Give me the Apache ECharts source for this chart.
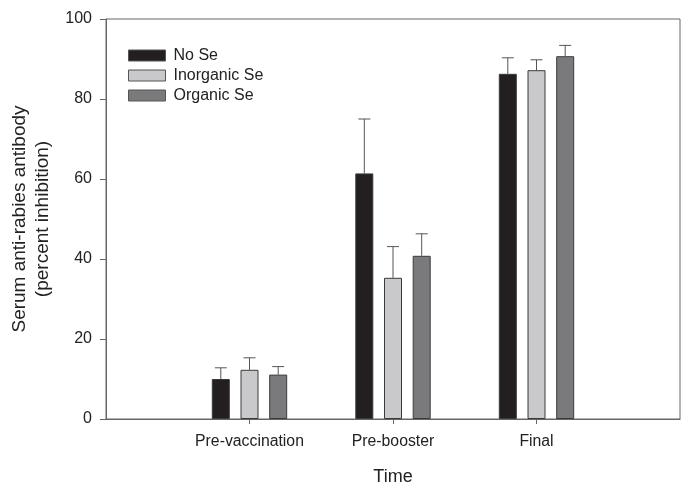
<!DOCTYPE html>
<html>
<head>
<meta charset="utf-8">
<script src="https://cdn.jsdelivr.net/npm/echarts@6/dist/echarts.min.js"></script>
<style>
  html, body { margin: 0; padding: 0; background: #fff; }
  #chart { width: 693px; height: 495px; }
</style>
</head>
<body>
<div id="chart"></div>
<script>
// data
const categories = ["Pre-vaccination", "Pre-booster", "Final"];
const seriesNames = ["No Se", "Inorganic Se", "Organic Se"];
const noSe = [10.0, 61.4, 86.3];
const noSeErr = [12.8, 75.0, 90.3];
const inorganicSe = [12.3, 35.3, 87.2];
const inorganicSeErr = [15.3, 43.1, 89.8];
const organicSe = [11.1, 40.8, 90.7];
const organicSeErr = [13.1, 46.3, 93.4];
const yTicks = [0, 20, 40, 60, 80, 100];

const colors = ["#231f20", "#c9c9cb", "#7a7a7d"];
const barW = 18;
const barGapPx = 10.7;

const means = [noSe, inorganicSe, organicSe];
const errs = [noSeErr, inorganicSeErr, organicSeErr];

const chart = echarts.init(document.getElementById("chart"));

const series = [];
means.forEach((vals, s) => {
  series.push({
    name: seriesNames[s],
    type: "bar",
    data: vals.map((v, i) => [i + 1, v]),
    barWidth: barW,
    barGap: (barGapPx / barW * 100) + "%",
    itemStyle: { color: colors[s], borderColor: "#3a3a3a", borderWidth: 1 },
    z: 2,
  });
});

// error bars (upper only), drawn through the axis scale
errs.forEach((hiVals, s) => {
  const offset = (s - 1) * (barW + barGapPx);
  series.push({
    type: "custom",
    data: hiVals.map((h, i) => [i + 1, means[s][i], h]),
    renderItem: (params, api) => {
      const lo = api.coord([api.value(0), api.value(1)]);
      const hi = api.coord([api.value(0), api.value(2)]);
      const x = lo[0] + offset;
      const style = { stroke: "#555", lineWidth: 1 };
      return {
        type: "group",
        children: [
          { type: "line", shape: { x1: x, y1: lo[1], x2: x, y2: hi[1] }, style },
          { type: "line", shape: { x1: x - 6, y1: hi[1], x2: x + 6, y2: hi[1] }, style },
        ],
      };
    },
    z: 1,
    silent: true,
  });
});

chart.setOption({
  animation: false,
  backgroundColor: "#fff",
  textStyle: { fontFamily: "Liberation Sans, Arial, sans-serif" },
  grid: {
    left: 106, right: 13, top: 19, bottom: 76,
    containLabel: false,
    outerBoundsMode: "none",
    show: true, borderColor: "#666", borderWidth: 1,
  },
  legend: {
    data: seriesNames,
    orient: "vertical",
    left: 128, top: 47,
    padding: 0,
    icon: "rect",
    itemWidth: 37, itemHeight: 11, itemGap: 3,
    itemStyle: { borderColor: "#555", borderWidth: 1 },
    textStyle: { fontSize: 16, lineHeight: 17, color: "#222", padding: [0, 0, 0, 3] },
  },
  xAxis: {
    type: "value",
    min: 0, max: 4, interval: 1,
    name: "Time",
    nameLocation: "middle",
    nameGap: 49,
    nameTextStyle: { fontSize: 18, color: "#222" },
    splitLine: { show: false },
    axisLine: { lineStyle: { color: "#666" } },
    axisTick: { length: 5, lineStyle: { color: "#666" }, customValues: [1, 2, 3] },
    axisLabel: {
      customValues: [1, 2, 3],
      formatter: (v) => categories[v - 1] || "",
      fontSize: 15.8, color: "#222", margin: 15,
    },
  },
  yAxis: {
    type: "value",
    min: 0, max: 100, interval: 20,
    name: "Serum anti-rabies antibody\n(percent inhibition)",
    nameLocation: "middle",
    nameGap: 52,
    nameTextStyle: { fontSize: 19, color: "#222", lineHeight: 23 },
    splitLine: { show: false },
    axisLine: { show: true, lineStyle: { color: "#666" } },
    axisTick: { show: true, length: 6, lineStyle: { color: "#666" }, customValues: yTicks },
    axisLabel: { customValues: yTicks, fontSize: 16, color: "#222", margin: 14 },
  },
  series: series,
});
</script>
</body>
</html>
